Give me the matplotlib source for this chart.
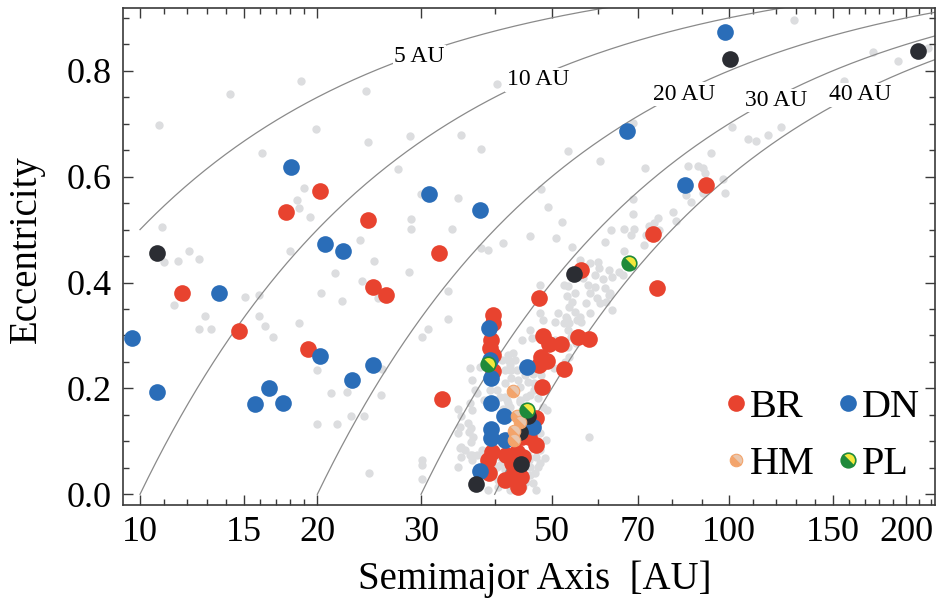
import numpy as np
import matplotlib
matplotlib.use("Agg")
import matplotlib.pyplot as plt
from matplotlib.lines import Line2D
from matplotlib.markers import MarkerStyle
from matplotlib.transforms import Affine2D

plt.rcParams['font.family'] = ['Liberation Serif', 'DejaVu Serif']

# background objects (light gray)
gray_a = [10.75, 10.9, 11.0, 11.6, 12.1, 12.6, 11.4, 12.6, 12.9, 13.2, 14.2, 15.1, 15.9, 15.9, 16.1,
          16.3, 16.8, 18.0, 18.5, 18.6, 19.0, 19.4, 18.6, 18.8, 19.9, 20.0, 20.0, 20.3, 21.1, 21.4,
          21.6, 22.0, 22.5, 22.8, 23.6, 23.8, 24.0, 24.2, 24.4, 24.5, 25.0, 25.4, 25.7, 25.8, 27.4,
          28.6, 28.7, 28.9, 28.9, 30.1, 30.1, 30.1, 30.1, 30.0, 30.8, 33.3, 33.3, 33.9, 34.7, 35.1,
          37.9, 37.9, 39.0, 40.3, 41.3, 34.7, 34.9, 36.3, 36.6, 36.2, 36.4, 34.9, 35.1, 36.6, 38.9,
          42.2, 43.0, 42.5, 42.0, 53.3, 60.3, 71.9, 68.6, 128.8, 101.0, 107.6, 111.0, 116.5, 122.6,
          93.2, 175.7, 193.3, 156.5, 218.0, 85.1, 88.7, 90.4, 91.2, 97.8, 98.6, 86.2, 80.2, 81.4,
          75.8, 74.5, 73.1, 72.3, 68.6, 68.8, 66.3, 68.9, 63.0, 49.3, 47.9, 50.9, 52.0, 45.9, 54.2,
          55.8, 58.1, 60.1, 62.6, 65.0, 66.1, 63.4, 59.2, 62.6, 63.4, 61.7, 57.2, 54.2, 54.8, 56.1,
          52.4, 47.7, 47.7, 48.3, 51.3, 52.4, 53.2, 54.0, 55.0, 44.6, 41.1, 42.1, 42.7, 37.1, 36.3,
          38.3, 46.4, 47.9, 46.7, 46.0, 47.3, 48.3, 49.0, 57.8, 41.6, 43.3, 44.2, 44.6, 42.1, 35.1,
          34.6, 36.5, 36.8, 35.1, 36.3, 40.5, 42.4, 44.7, 46.4, 47.0, 46.0, 45.7, 47.3, 46.4, 47.7,
          40.8, 41.6, 39.9, 90.3, 84.6, 68.1, 61.6, 76.0, 66.4, 71.6, 59.8, 59.3, 61.2, 56.6, 57.7,
          53.3, 53.0, 54.7, 61.6, 62.8, 58.1, 59.7, 60.4, 58.1, 55.9, 53.4, 52.8, 50.7, 53.4, 55.2,
          48.9, 50.7, 53.2, 53.1, 45.9, 46.3, 43.3, 42.5, 41.7, 43.6, 45.0, 42.7, 43.8, 45.6, 44.2,
          46.6, 45.3, 37.8, 50.4, 52.7, 53.4, 40.4, 40.9, 39.3, 37.3, 36.6, 36.1, 35.6, 36.6, 37.4,
          34.7, 37.3, 38.0, 40.9, 40.4, 40.6, 45.3, 45.9, 46.8, 47.8, 48.7, 47.8, 48.9, 47.8, 45.6,
          47.1, 41.7, 44.2, 41.4, 42.5]
gray_e = [0.697, 0.505, 0.438, 0.441, 0.459, 0.444, 0.357, 0.313, 0.337, 0.312, 0.756, 0.373, 0.376, 0.337, 0.644,
          0.317, 0.298, 0.460, 0.555, 0.540, 0.579, 0.524, 0.323, 0.781, 0.690, 0.235, 0.133, 0.380, 0.191, 0.418,
          0.133, 0.366, 0.193, 0.147, 0.480, 0.403, 0.147, 0.762, 0.665, 0.041, 0.441, 0.371, 0.188, 0.236, 0.615,
          0.420, 0.676, 0.520, 0.501, 0.065, 0.055, 0.029, 0.298, 0.568, 0.313, 0.332, 0.384, 0.502, 0.560, 0.679,
          0.653, 0.465, 0.461, 0.776, 0.474, 0.162, 0.128, 0.238, 0.216, 0.118, 0.099, 0.087, 0.071, 0.074, 0.008,
          0.254, 0.266, 0.235, 0.178, 0.648, 0.629, 0.616, 0.701, 0.896, 0.693, 0.672, 0.667, 0.678, 0.693,
          0.645, 0.835, 0.818, 0.781, 0.843, 0.621, 0.620, 0.617, 0.607, 0.595, 0.570, 0.553, 0.533, 0.517,
          0.521, 0.513, 0.507, 0.490, 0.557, 0.529, 0.502, 0.502, 0.499, 0.542, 0.576, 0.485, 0.515, 0.488, 0.468,
          0.442, 0.436, 0.427, 0.424, 0.420, 0.415, 0.411, 0.392, 0.376, 0.348, 0.364, 0.361, 0.364, 0.345, 0.326,
          0.395, 0.395, 0.342, 0.329, 0.342, 0.323, 0.310, 0.298, 0.285, 0.291, 0.254, 0.263, 0.235, 0.197, 0.172,
          0.178, 0.228, 0.225, 0.210, 0.188, 0.181, 0.165, 0.159, 0.109, 0.210, 0.197, 0.178, 0.159, 0.172, 0.147,
          0.115, 0.125, 0.109, 0.090, 0.074, 0.014, 0.008, 0.014, 0.021, 0.008, 0.052, 0.065, 0.052, 0.093, 0.087,
          0.055, 0.046, 0.071, 0.570, 0.566, 0.490, 0.477, 0.499, 0.459, 0.470, 0.439, 0.414, 0.406, 0.408, 0.395,
          0.393, 0.375, 0.380, 0.390, 0.380, 0.380, 0.370, 0.361, 0.342, 0.335, 0.354, 0.335, 0.326, 0.324, 0.329,
          0.301, 0.291, 0.279, 0.332, 0.310, 0.295, 0.254, 0.244, 0.235, 0.235, 0.225, 0.219, 0.216, 0.213, 0.203,
          0.197, 0.184, 0.241, 0.238, 0.250, 0.260, 0.197, 0.184, 0.197, 0.191, 0.159, 0.134, 0.084, 0.065, 0.074,
          0.052, 0.046, 0.084, 0.071, 0.052, 0.027, 0.024, 0.036, 0.040, 0.059, 0.068, 0.084, 0.103, 0.115, 0.074,
          0.071, 0.184, 0.175, 0.162, 0.165]

# BR (red)
br_a = [11.8, 14.7, 17.7, 19.3, 20.2, 24.4, 24.9, 26.2, 32.2, 32.5, 39.7, 39.7, 39.4, 39.35, 39.7, 39.7,
        47.6, 48.3, 49.4, 51.8, 55.4, 57.9, 48.0, 49.1, 47.5, 52.5, 48.1, 47.0, 47.1, 44.5, 45.8, 39.6,
        38.9, 41.8, 43.6, 42.8, 39.1, 41.7, 43.0, 43.9, 44.4, 44.7, 56.0, 74.2, 75.4, 91.3]
br_e = [0.381, 0.309, 0.533, 0.275, 0.573, 0.518, 0.391, 0.377, 0.455, 0.180, 0.339, 0.323, 0.291, 0.276, 0.263, 0.233,
        0.370, 0.299, 0.284, 0.283, 0.297, 0.293, 0.259, 0.252, 0.244, 0.237, 0.202, 0.1435, 0.093, 0.109, 0.109, 0.080,
        0.065, 0.074, 0.080, 0.0585, 0.040, 0.027, 0.036, 0.013, 0.033, 0.071, 0.423, 0.492, 0.389, 0.584]

# DN (blue)
dn_a = [9.70, 10.67, 13.64, 15.7, 16.54, 17.49, 18.03, 20.2, 20.64, 22.14, 22.94, 24.87, 30.9, 37.8,
        37.8, 39.2, 39.3, 39.4, 39.5, 39.4, 39.4, 41.5, 41.7, 45.4, 46.4, 67.0, 98.3, 84.2]
dn_e = [0.296, 0.194, 0.380, 0.170, 0.201, 0.173, 0.619, 0.261, 0.472, 0.460, 0.216, 0.245, 0.568, 0.537,
        0.044, 0.3135, 0.2536, 0.219, 0.173, 0.123, 0.106, 0.147, 0.1025, 0.241, 0.1265, 0.687, 0.874, 0.585]

# unlabelled dark objects
bk_a = [10.70, 37.2, 44.3, 54.6, 100.5, 209.7, 45.6, 44.1]
bk_e = [0.455, 0.019, 0.058, 0.416, 0.823, 0.837, 0.147, 0.117]

# HM
hm_a = [42.9, 43.6, 44.2, 43.2, 43.1]
hm_e = [0.195, 0.147, 0.137, 0.120, 0.1025]

# PL
pl_a = [38.9, 45.4, 67.7]
pl_e = [0.246, 0.159, 0.436]

# perihelion lines q = a(1-e)
q_vals = [5, 10, 20, 30, 40]
q_label_a = [29.8, 47.4, 84.0, 120.0, 167.0]

red = '#e8432f'
blue = '#2a6db8'
dark = '#2b2d33'
lgray = '#dcdddf'
orange = '#f3a46b'
peach = '#e9c6ad'
green = '#1f8a3a'
yellow = '#f4e83c'

fig = plt.figure(figsize=(9.46, 6.08), dpi=100)
ax = fig.add_axes([0.1297, 0.1694, 0.8587, 0.8169])

ax.scatter(gray_a, gray_e, s=36, color=lgray, linewidths=0, zorder=1)

for q, la in zip(q_vals, q_label_a):
    a = np.geomspace(max(q, 10), 240, 400)
    ax.plot(a, 1 - q / a, color='#8a8a8a', lw=0.9, zorder=2)
    ax.text(la, 1 - q / la - 0.006, f'{q} AU', fontsize=17, ha='center', va='center', zorder=2.5,
            bbox=dict(facecolor='white', edgecolor='none', pad=1.0))

ax.scatter(br_a, br_e, s=144, color=red, linewidths=0, zorder=3)
ax.scatter(dn_a, dn_e, s=144, color=blue, linewidths=0, zorder=4)
ax.scatter(bk_a, bk_e, s=144, color=dark, linewidths=0, zorder=5)

hm_marker = MarkerStyle('o', fillstyle='left', transform=Affine2D().rotate_deg(45))
pl_marker = MarkerStyle('o', fillstyle='left', transform=Affine2D().rotate_deg(45))
ax.plot(hm_a, hm_e, ls='none', marker=hm_marker, ms=9, mfc=orange, mfcalt=peach,
        mec=orange, mew=0.8, zorder=6)
ax.plot(pl_a, pl_e, ls='none', marker=pl_marker, ms=10.5, mfc=green, mfcalt=yellow,
        mec=green, mew=1.2, zorder=7)

ax.set_xscale('log')
ax.set_xlim(9.346, 223.7)
ax.set_ylim(-0.0202, 0.918)

major_x = [10, 15, 20, 30, 50, 70, 100, 150, 200]
minor_x = [11, 12, 13, 14, 16, 17, 18, 19, 40, 60, 80, 90, 110, 120, 130, 140, 160, 170, 180, 190, 210, 220]
ax.set_xticks(major_x)
ax.set_xticklabels([str(v) for v in major_x])
ax.set_xticks(minor_x, minor=True)
ax.set_xticklabels([], minor=True)
ax.set_yticks([0.0, 0.2, 0.4, 0.6, 0.8])
ax.set_yticklabels(['0.0', '0.2', '0.4', '0.6', '0.8'])
ax.set_yticks(np.arange(0, 0.95, 0.05), minor=True)

ax.tick_params(which='both', direction='in', top=True, right=True, color='#3a3a3a', width=1.0)
ax.tick_params(which='major', length=7, labelsize=26, pad=8)
ax.tick_params(which='minor', length=4)
for sp in ax.spines.values():
    sp.set_color('#3a3a3a')
    sp.set_linewidth(1.2)

ax.set_xlabel('Semimajor Axis  [AU]', fontsize=28)
ax.set_ylabel('Eccentricity', fontsize=28)
ax.xaxis.set_label_coords(0.5076, -0.112)
ax.yaxis.set_label_coords(-0.0957, 0.515)

handles = [
    Line2D([], [], ls='none', marker='o', ms=12, mfc=red, mec='none'),
    Line2D([], [], ls='none', marker=hm_marker, ms=9, mfc=orange, mfcalt=peach, mec=orange, mew=0.8),
    Line2D([], [], ls='none', marker='o', ms=12, mfc=blue, mec='none'),
    Line2D([], [], ls='none', marker=pl_marker, ms=10.5, mfc=green, mfcalt=yellow, mec=green, mew=1.2),
]
ax.legend(handles, ['BR', 'HM', 'DN', 'PL'], ncol=2, loc='center', bbox_to_anchor=(0.862, 0.139),
          frameon=False, fontsize=29, handlelength=0.5, handletextpad=0.1, columnspacing=0.58,
          labelspacing=0.48, borderpad=0, borderaxespad=0)

fig.savefig('out.png', dpi=100)
